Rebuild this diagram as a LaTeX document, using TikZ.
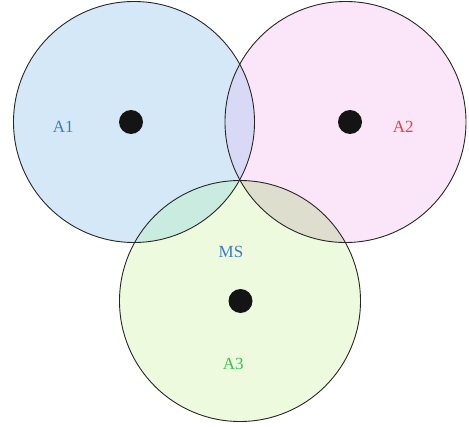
\documentclass[tikz,border=0pt]{standalone}
\usepackage{fontspec}
\setmainfont{Liberation Serif}
\usepackage{xcolor}
\definecolor{fillA}{HTML}{D5E8F7}
\definecolor{fillB}{HTML}{FAE6F8}
\definecolor{fillC}{HTML}{EEFADD}
\definecolor{fillAB}{HTML}{D7D9F5}
\definecolor{fillAC}{HTML}{CAEBDF}
\definecolor{fillBC}{HTML}{DEDECE}
\definecolor{txtblue}{HTML}{3B7DC3}
\definecolor{txtred}{HTML}{E8413A}
\definecolor{txtgreen}{HTML}{3DBE5A}

\begin{document}
\begin{tikzpicture}[x=1pt,y=-1pt,
    zone/.style={circle,draw=black!85,line width=0.9pt,minimum size=241pt,inner sep=0pt},
    dot/.style={circle,fill=black!92,minimum size=24pt,inner sep=0pt},
    lbl/.style={font=\fontsize{17}{17}\selectfont}]
    \useasboundingbox (0,0) rectangle (469,428);
    \coordinate (o1) at (134,122);
    \coordinate (o2) at (345.5,122);
    \coordinate (o3) at (240,301);
    % fills and overlaps
    \fill[fillA] (o1) circle (120.5pt);
    \fill[fillB] (o2) circle (120.5pt);
    \fill[fillC] (o3) circle (120.5pt);
    \begin{scope}
        \clip (o1) circle (120.5pt);
        \fill[fillAB] (o2) circle (120.5pt);
        \fill[fillAC] (o3) circle (120.5pt);
    \end{scope}
    \begin{scope}
        \clip (o2) circle (120.5pt);
        \fill[fillBC] (o3) circle (120.5pt);
    \end{scope}
    % outlines
    \node[zone] (a1) at (o1) {};
    \node[zone] (a2) at (o2) {};
    \node[zone] (a3) at (o3) {};
    % dots
    \node[dot] (d1) at (131,122) {};
    \node[dot] (d2) at (350,122) {};
    \node[dot] (d3) at (240.5,301) {};
    % labels
    \node[lbl,text=txtblue] (l1) at (63.3,126.5) {A1};
    \node[lbl,text=txtred] (l2) at (403.3,126.5) {A2};
    \node[lbl,text=txtblue] (ms) at (231,252) {MS};
    \node[lbl,text=txtgreen] (l3) at (233.3,364) {A3};
\end{tikzpicture}
\end{document}
